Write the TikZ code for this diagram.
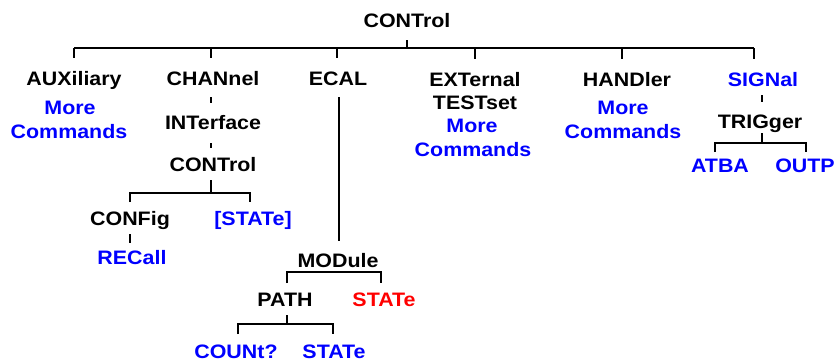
\documentclass[tikz,border=0pt]{standalone}
\usepackage{fontspec}
\usetikzlibrary{calc}
\newfontfamily\dfont[FakeStretch=1.1]{Liberation Sans Bold}
\definecolor{cblue}{RGB}{0,0,255}
\definecolor{cred}{RGB}{255,0,0}
\tikzset{
  t/.style={inner sep=0pt, outer sep=0pt, anchor=base, text height=10.5pt, text depth=0pt,
    font=\dfont\fontsize{14.6}{17}\selectfont, text=black},
  tb/.style={t, text=cblue},
  tr/.style={t, text=cred},
  conn/.style={draw=black, line width=0.9pt}
}
\begin{document}
\begin{tikzpicture}[x=0.75pt,y=-0.75pt]
\useasboundingbox (0,0) rectangle (837,362);
% nodes (center x, baseline y in px)
\node[t]  (ctrl)  at (407,27)  {CONTrol};
\node[t]  (aux)   at (74,85)   {AUXiliary};
\node[tb] (auxm)  at (70,114)  {More};
\node[tb] (auxc)  at (69,138)  {Commands};
\node[t]  (chan)  at (213,85)  {CHANnel};
\node[t]  (intf)  at (213,129) {INTerface};
\node[t]  (ctrlb) at (213,171) {CONTrol};
\node[t]  (cfg)   at (130,225) {CONFig};
\node[tb] (sta)   at (253,225) {[STATe]};
\node[tb] (rec)   at (132,264) {RECall};
\node[t]  (ecal)  at (338,85)  {ECAL};
\node[t]  (mod)   at (338,267) {MODule};
\node[t]  (path)  at (285,306) {PATH};
\node[tr] (str)   at (384,306) {STATe};
\node[tb] (cnt)   at (236,358) {COUNt?};
\node[tb] (stb)   at (334,358) {STATe};
\node[t]  (ext)   at (475,86)  {EXTernal};
\node[t]  (tst)   at (475,109) {TESTset};
\node[tb] (extm)  at (472,132) {More};
\node[tb] (extc)  at (473,156) {Commands};
\node[t]  (hnd)   at (627,86)  {HANDler};
\node[tb] (hndm)  at (623,114) {More};
\node[tb] (hndc)  at (623,138) {Commands};
\node[tb] (sig)   at (763,86)  {SIGNal};
\node[t]  (trig)  at (760,128) {TRIGger};
\node[tb] (atba)  at (720,172) {ATBA};
\node[tb] (outp)  at (805,172) {OUTP};
% top level bus
\coordinate (b1) at ($(ctrl.south)+(0,21)$);
\coordinate (hndd) at ($(hnd.north)+(-5,0)$);
\coordinate (sigd) at ($(sig.north)+(-9,0)$);
\coordinate (chand) at ($(chan.north)+(-2,0)$);
\coordinate (ecald) at ($(ecal.north)+(-1,0)$);
\draw[conn] ($(ctrl.south)+(0,13)$) -- (b1);
\draw[conn] (b1 -| aux.north) -- (b1 -| sigd);
\draw[conn] (b1 -| aux.north) -- ($(aux.north)+(0,-13)$);
\draw[conn] (b1 -| chand) -- ($(chand)+(0,-13)$);
\draw[conn] (b1 -| ecald) -- ($(ecald)+(0,-13)$);
\draw[conn] (b1 -| ext.north) -- ($(ext.north)+(0,-13)$);
\draw[conn] (b1 -| hndd) -- ($(hndd)+(0,-13)$);
\draw[conn] (b1 -| sigd) -- ($(sigd)+(0,-13)$);
% CHANnel branch
\draw[conn] ($(chan.south)+(-2,12)$) -- ($(intf.north)+(-2,-12)$);
\draw[conn] ($(intf.south)+(-2,14)$) -- ($(ctrlb.north)+(-2,-9)$);
\coordinate (b2) at ($(ctrlb.south)+(-2,22)$);
\coordinate (stad) at ($(sta.north)+(-3,0)$);
\draw[conn] ($(ctrlb.south)+(-2,9)$) -- (b2);
\draw[conn] ($(cfg.north)+(0,-9)$) -- (b2 -| cfg.north) -- (b2 -| stad) -- ($(stad)+(0,-9)$);
\draw[conn] ($(cfg.south)+(0,9)$) -- ($(rec.north -| cfg.south)+(0,-7)$);
% ECAL branch
\draw[conn] ($(ecal.south)+(1,12)$) -- ($(mod.north)+(1,-12)$);
\coordinate (b3) at ($(mod.south)+(0,5)$);
\coordinate (pathd) at ($(path.north)+(2,0)$);
\coordinate (strd) at ($(str.north)+(-3,0)$);
\draw[conn] ($(pathd)+(0,-9)$) -- (b3 -| pathd) -- (b3 -| strd) -- ($(strd)+(0,-9)$);
\coordinate (b4) at ($(pathd)+(0,32)$);
\draw[conn] ($(path.south -| pathd)+(0,9)$) -- (b4 -| pathd);
\draw[conn] ($(cnt.north)+(2,-10)$) -- (b4 -| {$(cnt.north)+(2,0)$}) -- (b4 -| {$(stb.north)+(-1,0)$}) -- ($(stb.north)+(-1,-10)$);
% SIGNal branch
\draw[conn] ($(sig.south)+(-1,9)$) -- ($(trig.north)+(2,-12)$);
\coordinate (b5) at ($(trig.south)+(2,15)$);
\draw[conn] ($(trig.south)+(2,5)$) -- (b5);
\draw[conn] ($(atba.north)+(-5,-6)$) -- (b5 -| {$(atba.north)+(-5,0)$}) -- (b5 -| {$(outp.north)+(1,0)$}) -- ($(outp.north)+(1,-6)$);
\end{tikzpicture}
\end{document}
